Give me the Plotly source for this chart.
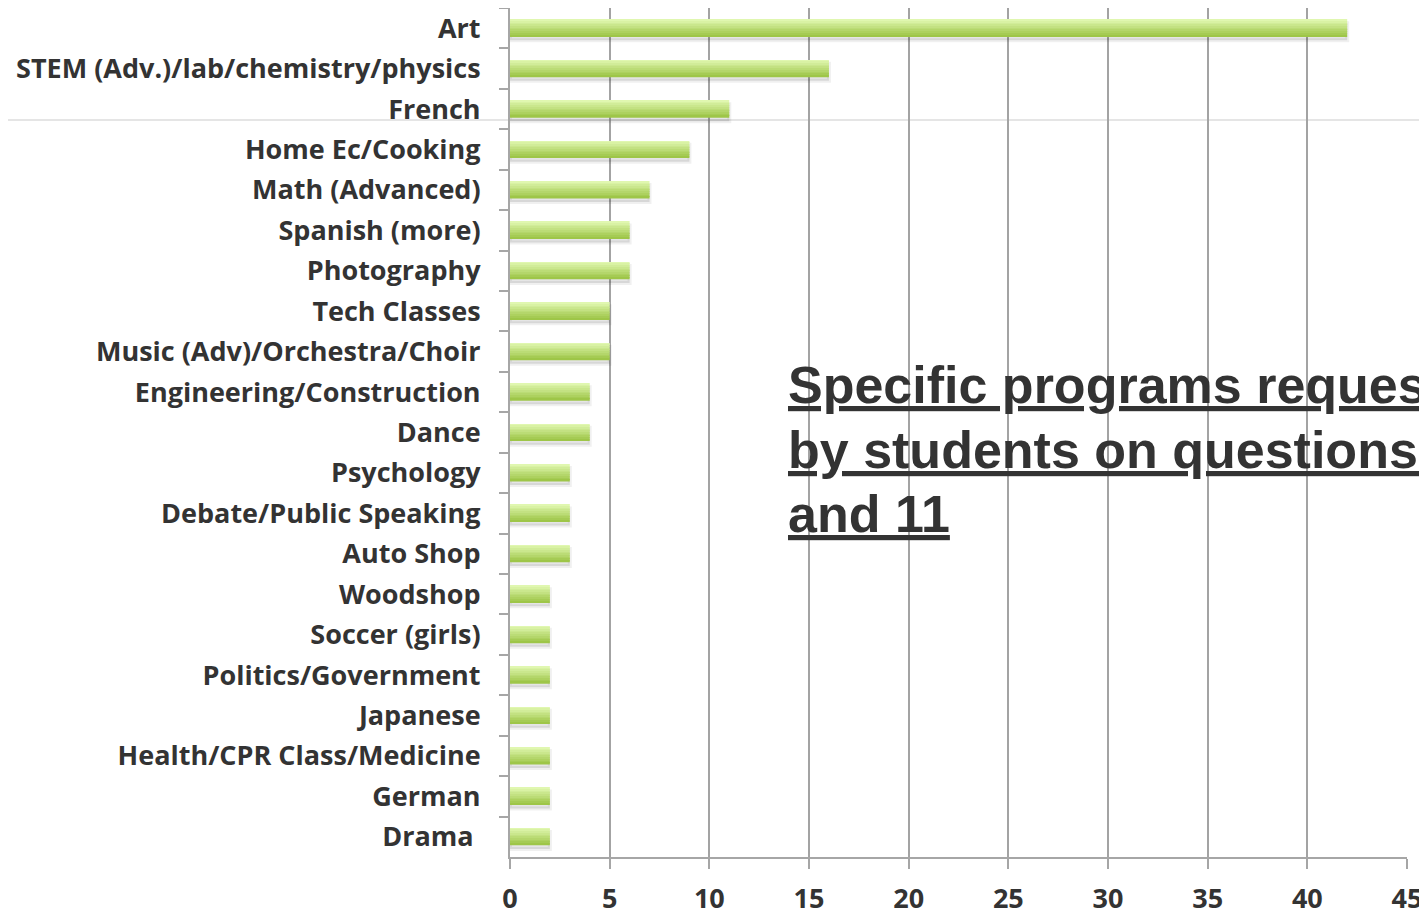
import plotly.graph_objects as go

categories = ["Art", "STEM (Adv.)/lab/chemistry/physics", "French", "Home Ec/Cooking",
              "Math (Advanced)", "Spanish (more)", "Photography", "Tech Classes",
              "Music (Adv)/Orchestra/Choir", "Engineering/Construction", "Dance",
              "Psychology", "Debate/Public Speaking", "Auto Shop", "Woodshop",
              "Soccer (girls)", "Politics/Government", "Japanese",
              "Health/CPR Class/Medicine", "German", "Drama\u00a0"]
values = [42, 16, 11, 9, 7, 6, 6, 5, 5, 4, 4, 3, 3, 3, 2, 2, 2, 2, 2, 2, 2]
x_ticks = [0, 5, 10, 15, 20, 25, 30, 35, 40, 45]
title_lines = ["Specific programs requested", "by students on questions 10", "and 11"]

# page body shifts the figure 8px right and down, so the figure is reduced accordingly
W, H = 1419, 908
L, R, T, B = 502, 20, 0, 59
PW, PH = W - L - R, H - T - B

fig = go.Figure()

half = 0.21
# soft shadow
fig.add_trace(go.Bar(
    y=categories, x=values, orientation="h",
    width=2 * half, offset=-half + 0.09,
    marker=dict(color="rgba(0,0,0,0.10)", line=dict(color="rgba(0,0,0,0.06)", width=4)),
    hoverinfo="skip", showlegend=False))

# gradient bar built from stacked slices
top = (224, 247, 176)
bot = (158, 198, 72)
n = 10
h = 2 * half / n
for i in range(n):
    t = i / (n - 1)
    c = tuple(round(top[k] + (bot[k] - top[k]) * t) for k in range(3))
    fig.add_trace(go.Bar(
        y=categories, x=values, orientation="h",
        width=h * 1.05, offset=-half + i * h,
        marker=dict(color="rgb(%d,%d,%d)" % c, line=dict(width=0)),
        showlegend=False, hoverinfo="x+y" if i == 0 else "skip"))

title_y = [377, 442, 506]  # pixel centres of the title lines (figure coords)
annotations = []
for line, yp in zip(title_lines, title_y):
    annotations.append(dict(
        text=line, xref="paper", yref="paper",
        x=(778 - L) / PW, y=(H - B - yp) / PH,
        xanchor="left", yanchor="middle", align="left", showarrow=False,
        font=dict(family="Liberation Sans", size=52, color="#333333",
                  weight="bold", lineposition="under"),
    ))

line_y = (H - B - 112) / PH

fig.update_layout(
    width=W, height=H,
    margin=dict(l=L, r=R, t=T, b=B, autoexpand=False),
    paper_bgcolor="white", plot_bgcolor="white",
    barmode="overlay",
    showlegend=False,
    font=dict(family="Open Sans", color="#333333"),
    xaxis=dict(
        range=[0, 45], tickvals=x_ticks, ticktext=[str(v) for v in x_ticks],
        showgrid=True, gridcolor="#a3a3a3", gridwidth=2,
        zeroline=False, showline=True, linecolor="#a6a6a6", linewidth=2,
        ticks="outside", ticklen=10, tickwidth=2, tickcolor="#a6a6a6",
        tickfont=dict(family="Open Sans", size=27, color="#333333", weight="bold"),
        ticklabelstandoff=7, automargin=False,
    ),
    yaxis=dict(
        type="category", autorange="reversed",
        showgrid=False, zeroline=False,
        showline=True, linecolor="#a6a6a6", linewidth=2,
        ticks="outside", ticklen=9, tickwidth=2, tickcolor="#a6a6a6",
        tickson="boundaries",
        tickfont=dict(family="Open Sans", size=27, color="#333333", weight="bold"),
        ticklabelstandoff=22, automargin=False,
    ),
    shapes=[dict(type="line", xref="paper", yref="paper",
                 x0=-0.6, x1=1.05, y0=line_y, y1=line_y,
                 line=dict(color="#dddddd", width=1.5), layer="below")],
    annotations=annotations,
)

fig.write_html("out.html")
